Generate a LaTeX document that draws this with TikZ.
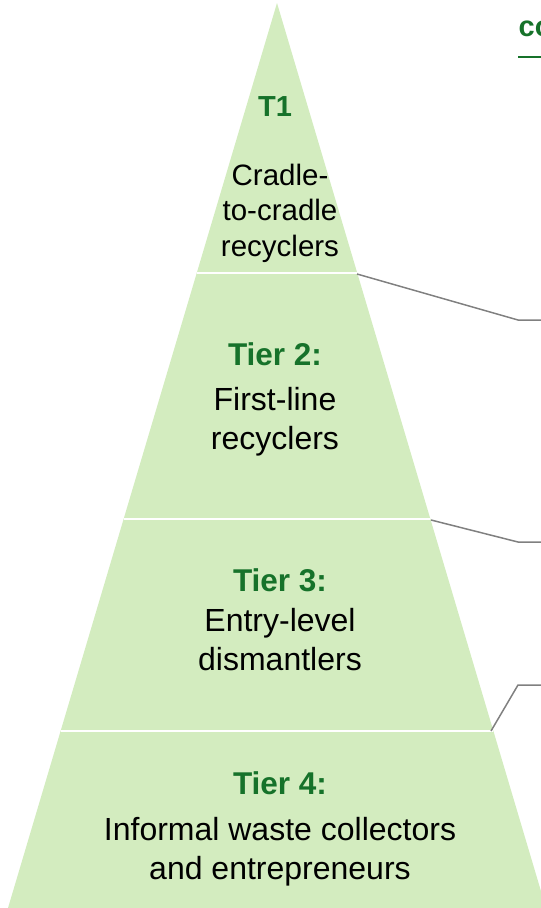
\documentclass[tikz,border=0pt]{standalone}
\usepackage{fontspec}
\setmainfont{Liberation Sans}
\definecolor{pyrfill}{RGB}{211,236,191}
\definecolor{tiergreen}{RGB}{22,114,42}
\definecolor{conngray}{RGB}{128,128,128}
\begin{document}
\begin{tikzpicture}[x=1pt,y=-1pt,
  head/.style={font=\bfseries\fontsize{31.5}{36}\selectfont, text=tiergreen, inner sep=0pt},
  headsmall/.style={font=\bfseries\fontsize{29}{34}\selectfont, text=tiergreen, inner sep=0pt},
  body/.style={font=\fontsize{32}{39}\selectfont, align=center, inner sep=0pt},
  bodysmall/.style={font=\fontsize{29.5}{35.5}\selectfont, align=center, inner sep=0pt},
  divider/.style={draw=white, line width=1.6pt},
  conn/.style={draw=conngray, line width=1.5pt}]
\useasboundingbox (0,0) rectangle (541,908);
\clip (0,0) rectangle (541,908);
% pyramid
\fill[pyrfill] (277,3) -- (546,908) -- (8,908) -- cycle;
% dividers
\coordinate (d1l) at (196.8,273); \coordinate (d1r) at (357.2,273);
\coordinate (d2l) at (123.6,519); \coordinate (d2r) at (430.4,519);
\coordinate (d3l) at (60.6,731);  \coordinate (d3r) at (493.4,731);
\draw[divider] (d1l) -- (d1r);
\draw[divider] (d2l) -- (d2r);
\draw[divider] (d3l) -- (d3r);
% connectors
\coordinate (b1) at (518,320); \coordinate (e1) at (545,320);
\coordinate (b2) at (518,542); \coordinate (e2) at (545,542);
\coordinate (b3) at (518,685); \coordinate (e3) at (545,685);
\draw[conn] (357,274) -- (b1) -- (e1);
\draw[conn] (431,520) -- (b2) -- (e2);
\draw[conn] (491,731) -- (b3) -- (e3);
% texts
\node[headsmall] (t1h) at (275,107) {T1};
\node[bodysmall] (t1b) at (280,213) {Cradle-\\to-cradle\\recyclers};
\node[head] (t2h) at (275,354) {Tier 2:};
\node[body] (t2b) at (275,422) {First-line\\recyclers};
\node[head] (t3h) at (280,580) {Tier 3:};
\node[body] (t3b) at (280,640) {Entry-level\\dismantlers};
\node[head] (t4h) at (280,783) {Tier 4:};
\node[body] (t4b) at (280,851.5) {Informal waste collectors\\and entrepreneurs};
% cropped heading at top right
\node[font=\bfseries\fontsize{29}{34}\selectfont, text=tiergreen, anchor=base west, inner sep=0pt] (hd) at (518.5,36) {co};
\coordinate (ul) at (518,56.5); \coordinate (ur) at (545,56.5);
\draw[draw=tiergreen, line width=2pt] (ul) -- (ur);
\end{tikzpicture}
\end{document}
